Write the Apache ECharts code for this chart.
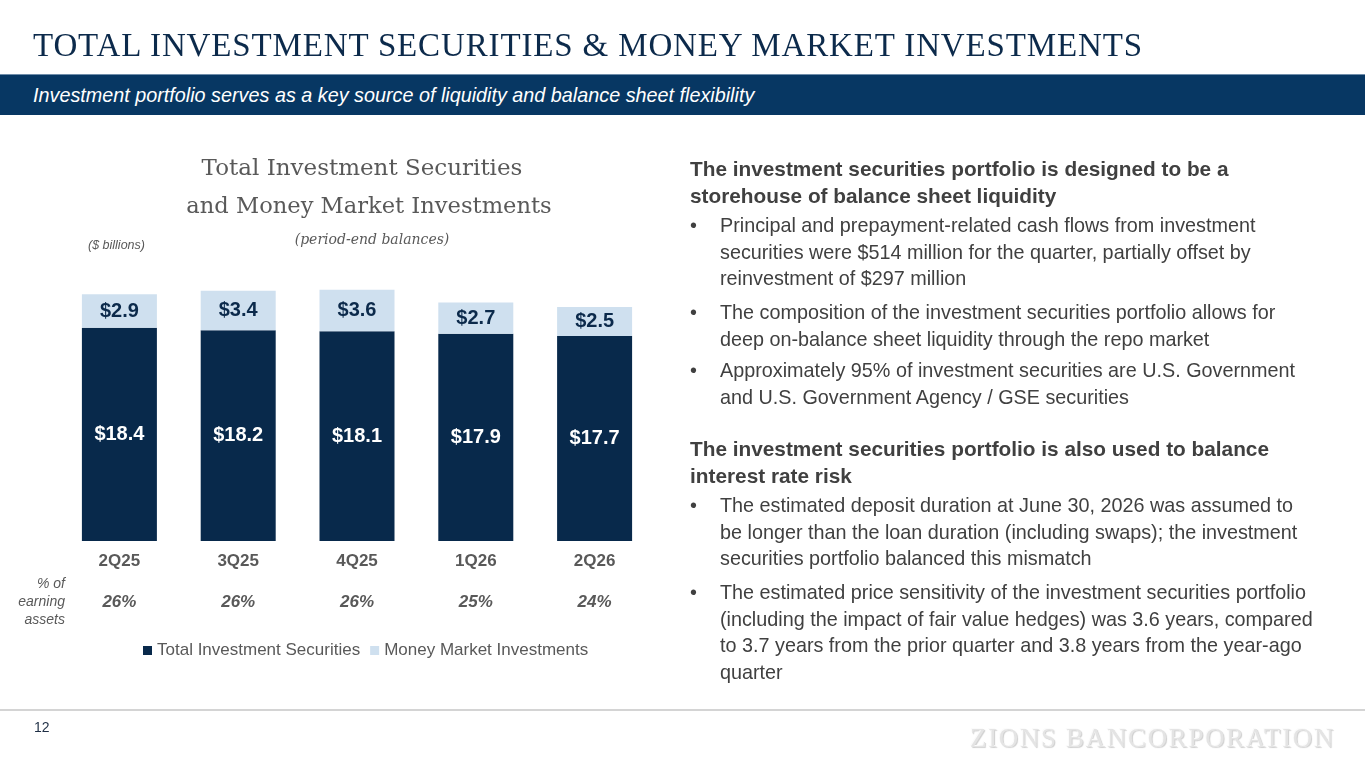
<!DOCTYPE html>
<html>
<head>
<meta charset="utf-8">
<title>Total Investment Securities & Money Market Investments</title>
<script src="https://cdn.jsdelivr.net/npm/echarts@6/dist/echarts.min.js"></script>
<style>
    html, body { margin: 0; padding: 0; background: #fff; }
    #page { position: relative; width: 1365px; height: 768px; overflow: hidden; font-family: "Liberation Sans", Arial, sans-serif; }
    #chart { position: absolute; left: 0; top: 0; width: 1365px; height: 768px; }
    .slide-title { position: absolute; left: 33px; top: 26px; font-family: "Liberation Serif", serif; font-size: 33px; line-height: 38px; color: #0c2a4b; white-space: nowrap; }
    .band { position: absolute; left: 0; top: 74px; width: 1365px; height: 41px; background: #073763; border-top: 1px solid #6f8daa; box-sizing: border-box; }
    .band span { position: absolute; left: 33px; top: 9px; color: #fff; font-style: italic; font-size: 19.8px; line-height: 22px; white-space: nowrap; }
    .txt { position: absolute; left: 690px; color: #404040; font-size: 19.8px; line-height: 26.5px; white-space: nowrap; }
    .txt.head { font-weight: bold; font-size: 20.8px; }
    .txt.bul { padding-left: 30px; }
    .txt.bul:before { content: "\2022"; position: absolute; left: 0; top: 0; }
    .footline { position: absolute; left: 0; top: 709px; width: 1365px; height: 2px; background: #d4d4d4; }
    .pageno { position: absolute; left: 34px; top: 719px; font-size: 14px; color: #1f2f45; }
    .logo { position: absolute; left: 970px; top: 723px; font-family: "Liberation Serif", serif; font-size: 27px; line-height: 30px; color: #e4e4e4; letter-spacing: 1.5px; white-space: nowrap; text-shadow: -1px -1px 0 #fbfbfb, 1px 1px 1px #cfcfcf; }
</style>
</head>
<body>
<div id="page">
    <div id="chart"></div>
    <div class="slide-title" id="slideTitle">TOTAL INVESTMENT SECURITIES &amp; MONEY MARKET INVESTMENTS</div>
    <div class="band"><span>Investment portfolio serves as a key source of liquidity and balance sheet flexibility</span></div>

    <div class="txt head" style="top:156px">The investment securities portfolio is designed to be a<br>storehouse of balance sheet liquidity</div>
    <div class="txt bul" style="top:212px">Principal and prepayment-related cash flows from investment<br>securities were $514 million for the quarter, partially offset by<br>reinvestment of $297 million</div>
    <div class="txt bul" style="top:299px">The composition of the investment securities portfolio allows for<br>deep on-balance sheet liquidity through the repo market</div>
    <div class="txt bul" style="top:357px">Approximately 95% of investment securities are U.S. Government<br>and U.S. Government Agency / GSE securities</div>

    <div class="txt head" style="top:436px">The investment securities portfolio is also used to balance<br>interest rate risk</div>
    <div class="txt bul" style="top:492px">The estimated deposit duration at June 30, 2026 was assumed to<br>be longer than the loan duration (including swaps); the investment<br>securities portfolio balanced this mismatch</div>
    <div class="txt bul" style="top:579px">The estimated price sensitivity of the investment securities portfolio<br>(including the impact of fair value hedges) was 3.6 years, compared<br>to 3.7 years from the prior quarter and 3.8 years from the year-ago<br>quarter</div>

    <div class="footline"></div>
    <div class="pageno">12</div>
    <div class="logo" id="logo">ZIONS BANCORPORATION</div>
</div>
<script>
// 数据
var quarters = ['2Q25', '3Q25', '4Q25', '1Q26', '2Q26'];
var securities = [18.4, 18.2, 18.1, 17.9, 17.7];
var moneyMarket = [2.9, 3.4, 3.6, 2.7, 2.5];
var pctEarning = ['26%', '26%', '26%', '25%', '24%'];
var seriesNames = ['Total Investment Securities', 'Money Market Investments'];

var navy = '#08294b',
    lightBlue = '#cfe0ef',
    grey = '#595959';

// 标题拉伸到原图宽度
function fitWidth(id, target) {
    var el = document.getElementById(id);
    var w = el.getBoundingClientRect().width;
    var n = el.textContent.length - 1;
    var cur = parseFloat(getComputedStyle(el).letterSpacing) || 0;
    el.style.letterSpacing = (cur + (target - w) / n) + 'px';
}
fitWidth('slideTitle', 1109);
fitWidth('logo', 365);

var chart = echarts.init(document.getElementById('chart'));

function money(p) {
    return '$' + p.value.toFixed(1);
}

var option = {
    animation: false,
    grid: { left: 60, width: 594, top: 263, bottom: 227 },
    legend: {
        left: 138,
        top: 637,
        itemWidth: 9,
        itemHeight: 9,
        itemGap: 10,
        icon: 'rect',
        textStyle: { color: grey, fontSize: 17, fontFamily: 'Liberation Sans' },
        data: seriesNames
    },
    xAxis: [
        {
            type: 'category',
            data: quarters,
            axisLine: { show: false },
            axisTick: { show: false },
            axisLabel: { color: grey, fontSize: 17, fontWeight: 'bold', fontFamily: 'Liberation Sans', margin: 12 }
        },
        {
            type: 'category',
            data: pctEarning,
            position: 'bottom',
            offset: 41,
            axisLine: { show: false },
            axisTick: { show: false },
            axisLabel: { color: grey, fontSize: 17, fontWeight: 'bold', fontStyle: 'italic', fontFamily: 'Liberation Sans', margin: 12 }
        }
    ],
    yAxis: { type: 'value', min: 0, max: 24, show: false },
    series: [
        {
            name: seriesNames[0],
            type: 'bar',
            stack: 'total',
            barWidth: 75,
            itemStyle: { color: navy },
            label: { show: true, position: 'inside', formatter: money, color: '#fff', fontSize: 20, fontWeight: 'bold', fontFamily: 'Liberation Sans' },
            data: securities
        },
        {
            name: seriesNames[1],
            type: 'bar',
            stack: 'total',
            barWidth: 75,
            itemStyle: { color: lightBlue },
            label: { show: true, position: 'inside', formatter: money, color: '#0c2a4b', fontSize: 20, fontWeight: 'bold', fontFamily: 'Liberation Sans' },
            data: moneyMarket
        }
    ],
    graphic: [
        { type: 'text', x: 362, y: 169, style: { text: 'Total Investment Securities', align: 'center', verticalAlign: 'middle', fill: grey, font: '23px "DejaVu Serif"' } },
        { type: 'text', x: 369, y: 207, style: { text: 'and Money Market Investments', align: 'center', verticalAlign: 'middle', fill: grey, font: '22.6px "DejaVu Serif"' } },
        { type: 'text', x: 372, y: 240, style: { text: '(period-end balances)', align: 'center', verticalAlign: 'middle', fill: grey, font: 'italic 14px "DejaVu Serif"' } },
        { type: 'text', x: 88, y: 246, style: { text: '($ billions)', align: 'left', verticalAlign: 'middle', fill: grey, font: 'italic 12.5px "Liberation Sans"' } },
        { type: 'text', x: 65, y: 584, style: { text: '% of', align: 'right', verticalAlign: 'middle', fill: grey, font: 'italic 14px "Liberation Sans"' } },
        { type: 'text', x: 65, y: 602, style: { text: 'earning', align: 'right', verticalAlign: 'middle', fill: grey, font: 'italic 14px "Liberation Sans"' } },
        { type: 'text', x: 65, y: 620, style: { text: 'assets', align: 'right', verticalAlign: 'middle', fill: grey, font: 'italic 14px "Liberation Sans"' } }
    ]
};
chart.setOption(option);
</script>
</body>
</html>
